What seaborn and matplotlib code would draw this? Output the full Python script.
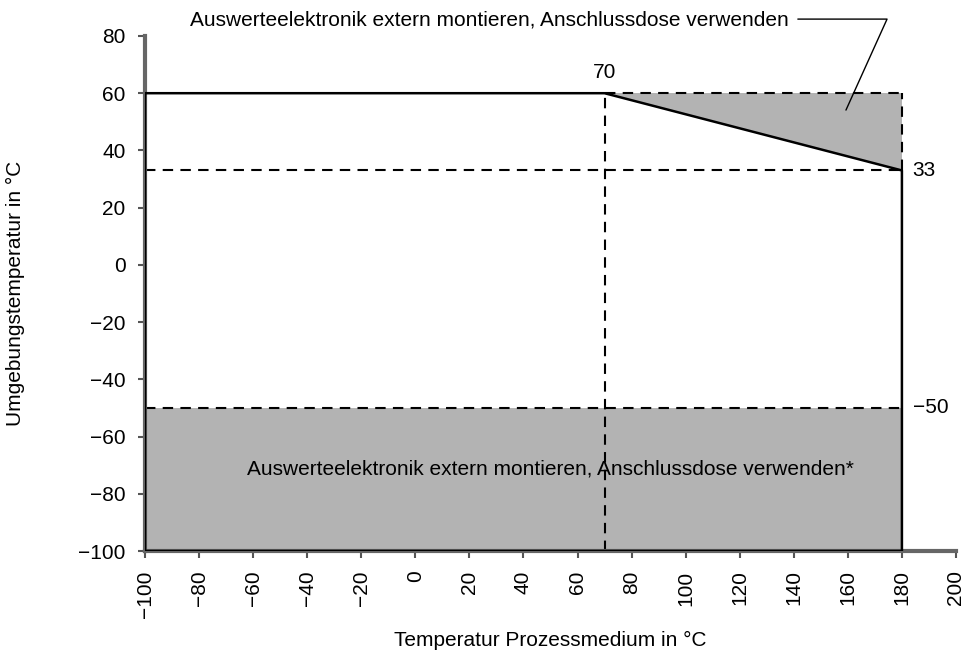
import matplotlib
matplotlib.use("Agg")
import matplotlib.pyplot as plt
import seaborn as sns
import pandas as pd

# ---- data ----
boundary_x = [-100, -100, 70, 180, 180, -100]
boundary_y = [-100, 60, 60, 33, -100, -100]
triangle_x = [70, 180, 180]
triangle_y = [60, 60, 33]
rect_x = [-100, 180]
rect_y_low = -100
rect_y_high = -50
h_dash_levels = [33, -50]
v_dash_x = 70
label_70 = "70"
label_33 = "33"
label_m50 = "\u221250"
x_ticks = list(range(-100, 201, 20))
y_ticks = list(range(-100, 81, 20))
note_top = "Auswerteelektronik extern montieren, Anschlussdose verwenden"
note_bottom = "Auswerteelektronik extern montieren, Anschlussdose verwenden*"
x_label = "Temperatur Prozessmedium in °C"
y_label = "Umgebungstemperatur in °C"

sns.set_theme(style="ticks")
plt.rcParams['font.family'] = ['Liberation Sans', 'DejaVu Sans']
plt.rcParams['text.color'] = 'black'
plt.rcParams['axes.labelcolor'] = 'black'
plt.rcParams['xtick.color'] = 'black'
plt.rcParams['ytick.color'] = 'black'

FS = 15

fig = plt.figure(figsize=(9.67, 6.53), dpi=100)
ax = fig.add_axes([0.15, 0.1562, 0.8386, 0.7887])

gray = "#b3b3b3"
ax.fill(triangle_x, triangle_y, color=gray, lw=0, zorder=1)
ax.fill_between(rect_x, [rect_y_low] * 2, [rect_y_high] * 2, color=gray, lw=0, zorder=1)

dash = dict(color="black", lw=1.5, ls=(0, (5, 3.5)), zorder=2)
for lvl in h_dash_levels:
    ax.plot([-100, 180], [lvl, lvl], **dash)
ax.plot([v_dash_x, v_dash_x], [-100, 60], **dash)
ax.plot([70, 180], [60, 60], **dash)
ax.plot([180, 180], [33, 60], **dash)

df = pd.DataFrame({"x": boundary_x, "y": boundary_y})
sns.lineplot(data=df, x="x", y="y", sort=False, estimator=None, color="black", lw=1.8, ax=ax, zorder=3)

ax.set_xlim(-100, 200)
ax.set_ylim(-100, 80)
ax.set_xticks(x_ticks)
ax.set_yticks(y_ticks)
fmt = lambda v: str(v).replace("-", "\u2212")
ax.set_xticklabels([fmt(v) for v in x_ticks], rotation=90, fontsize=FS)
ax.set_yticklabels([fmt(v) for v in y_ticks], fontsize=FS)
ax.tick_params(axis="both", direction="out", length=5, width=1.5, color="#555555", pad=9)
for s in ["top", "right"]:
    ax.spines[s].set_visible(False)
for s in ["left", "bottom"]:
    ax.spines[s].set_color("#666666")
    ax.spines[s].set_linewidth(3)
ax.set_xlabel(x_label, fontsize=FS, va="center")
ax.set_ylabel(y_label, fontsize=FS, va="center")
ax.xaxis.set_label_coords(0.5, -0.173)
ax.yaxis.set_label_coords(-0.160, 0.5)

ax.text(70, 64, label_70, fontsize=FS, ha="center", va="bottom")
ax.text(184, 33, label_33, fontsize=FS, ha="left", va="center")
ax.text(184, -50, label_m50, fontsize=FS, ha="left", va="center")
ax.text(50, -71.5, note_bottom, fontsize=FS, ha="center", va="center")
ax.text(138, 85.5, note_top, fontsize=FS, ha="right", va="center", clip_on=False)
ax.plot([141.5, 174.5, 159.3], [85.9, 85.9, 54.1], color="black", lw=1, clip_on=False)

fig.savefig("out.png", dpi=100)
